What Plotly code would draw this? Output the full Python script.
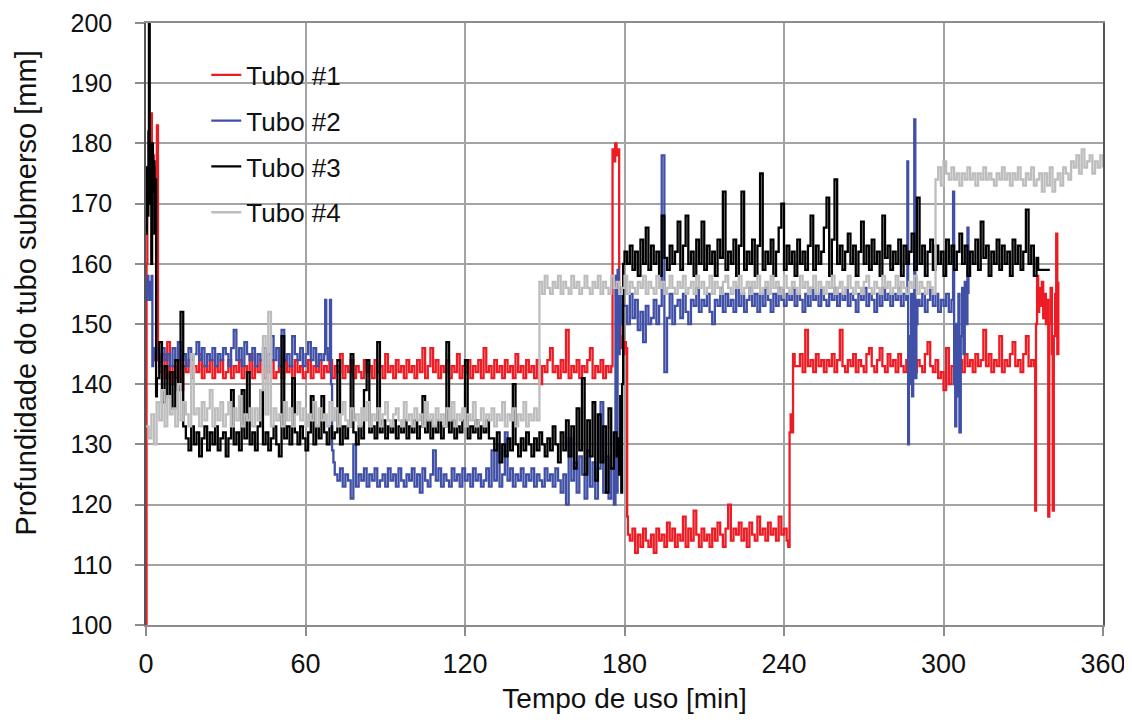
import plotly.graph_objects as go

# ---------------- Tubo #1 (red) ----------------
R_HEAD_T = [0, 0.2, 0.5, 1.0, 1.5, 1.8, 2.2, 2.6, 3.0, 3.4, 3.8, 4.1, 4.5]
R_HEAD_V = [100, 160, 176, 170, 178, 185, 172, 178, 174, 168, 176, 183, 144]
R_A_START = 5  # one value per minute
R_A = [142, 145, 141, 147, 140, 143, 141, 144, 139, 143,
       142, 144, 141, 143, 142, 145, 141, 143, 142, 144,
       141, 143, 142, 144, 141, 142, 144, 141, 143, 142,
       144, 141, 143, 142, 145, 141, 143, 142, 144, 141,
       143, 142, 144, 141, 142, 143, 141, 144, 142, 143,
       141, 144, 142, 143, 141, 142, 144, 141, 143, 142,
       144, 141, 143, 142, 144, 141, 143, 142, 145, 141,
       143, 142, 144, 141, 143, 142, 141, 144, 142, 143,
       141, 144, 142, 143, 141, 145, 142, 143, 141, 144,
       142, 143, 141, 144, 142, 143, 141, 144, 142, 146,
       141, 143, 146, 142, 144, 141, 143, 142, 144, 141,
       143, 142, 145, 141, 143, 142, 144, 141, 143, 142,
       144, 141, 146, 142, 143, 141, 144, 142, 143, 141,
       144, 142, 143, 141, 145, 142, 143, 141, 144, 142,
       143, 141, 144, 140, 143, 142, 144, 146, 142, 143,
       141, 144, 142, 149, 141, 143, 142, 144, 141, 143,
       142, 144, 146, 141, 143, 142, 144, 141, 143, 142, 143]
R_JUMP_T = [175.5, 176, 176.5, 177, 177.5, 178, 178.5, 179, 179.5, 180, 180.5, 181, 181.3]
R_JUMP_V = [179, 177, 180, 178, 179, 150, 146, 148, 145, 147, 146, 118, 115]
R_B_START = 182
R_B = [114, 116, 112, 115, 113, 116, 114, 113, 115, 112,
       116, 114, 115, 113, 117, 114, 116, 113, 115, 114,
       118, 113, 116, 114, 119, 115, 113, 116, 114, 115,
       113, 116, 114, 117, 115, 113, 116, 120, 114, 116,
       115, 117, 114, 116, 113, 117, 115, 114, 118, 115,
       116, 114, 117, 115, 116, 114, 118, 115, 116, 114]
R_RISE_T = [241.6, 242.1, 242.5, 243.0, 243.4, 244.0]
R_RISE_V = [113, 132, 135, 132, 145, 143]
R_C_START = 245
R_C = [143, 145, 142, 149, 143, 144, 142, 145, 143, 144,
       142, 144, 143, 145, 142, 144, 149, 143, 142, 144,
       143, 145, 142, 144, 143, 142, 145, 146, 143, 142,
       144, 146, 143, 142, 145, 143, 144, 142, 145, 143,
       142, 144, 143, 145, 142, 144, 143, 142, 145, 147,
       143, 142, 144, 141, 142, 139, 146, 140, 143, 142,
       141, 144, 142, 145, 143, 144, 142, 145, 143, 144,
       149, 143, 145, 142, 144, 143, 148, 142, 144, 143,
       145, 147, 143, 144, 142, 145, 148, 143, 144, 143]
R_TAIL_T = [334.5, 334.8, 335.2, 335.6, 336.0, 336.5, 337.0, 337.5, 338.0, 338.5, 339.0,
            339.4, 339.8, 340.3, 340.8, 341.1, 341.5, 342.0, 342.4, 342.8, 343.2]
R_TAIL_V = [119, 150, 158, 152, 156, 153, 157, 151, 155, 150, 154,
            118, 150, 156, 145, 119, 148, 155, 165, 145, 157]

# ---------------- Tubo #2 (blue) ----------------
B_HEAD_T = [0, 0.3, 0.6, 0.9, 1.2, 1.5, 1.8, 2.1, 2.4, 2.7, 3.0, 3.4]
B_HEAD_V = [157, 154, 158, 155, 157, 154, 156, 158, 143, 146, 144, 146]
B_A_START = 4
B_A = [145, 143, 146, 144, 145, 143, 146, 144, 147, 144,
       145, 143, 146, 144, 145, 147, 144, 146, 143, 145,
       144, 146, 143, 145, 144, 146, 145, 143, 146, 149,
       144, 146, 143, 147, 145, 144, 146, 143, 145, 144,
       146, 143, 145, 148, 144, 146, 143, 149, 144, 145,
       143, 148, 145, 144, 146, 143, 145, 147, 144, 146,
       143, 145, 144]
B_DROP_T = [67.0, 67.4, 67.8, 68.3, 68.8, 69.2, 69.6, 70.0, 70.5, 71.0]
B_DROP_V = [145, 154, 146, 144, 145, 154, 140, 129, 127, 125]
B_B_START = 72
B_B = [124, 126, 123, 125, 124, 121, 130, 123, 125, 124,
       126, 123, 125, 124, 126, 123, 124, 125, 123, 126,
       124, 125, 123, 126, 124, 123, 125, 124, 126, 123,
       125, 122, 126, 124, 123, 125, 129, 124, 126, 123,
       125, 124, 123, 126, 124, 125, 123, 126, 124, 125,
       123, 126, 124, 125, 123, 124, 126, 123, 129, 124,
       130, 123, 125, 132, 124, 126, 123, 125, 124, 126,
       123, 125, 124, 126, 123, 125, 124, 123, 126, 124,
       125, 123, 126, 124, 122, 125, 120, 131, 124, 127,
       122, 128, 125, 121, 129, 123, 127, 121, 126, 137,
       122, 128, 121, 126, 120]
B_UP_T = [176.6, 177.0, 177.4, 177.8, 178.2, 178.6, 179.0]
B_UP_V = [158, 122, 159, 145, 156, 150, 153]
B_C_START = 180
B_C = [153, 150, 155, 151, 154, 149, 152, 147, 153, 150,
       151, 154, 150, 153, 178, 142, 151, 155, 150, 153,
       154, 151, 155, 152, 150, 154, 153, 156, 152, 154,
       153, 155, 152, 150, 154, 153, 156, 152, 155, 153,
       154, 152, 156, 153, 155, 152, 154, 156, 153, 155,
       152, 155, 153, 156, 154, 152, 155, 153, 156, 154,
       153, 155, 154, 156, 153, 155, 154, 152, 155, 153,
       156, 154, 155, 153, 156, 154, 153, 155, 154, 156,
       153, 155, 154, 156, 153, 155, 154, 152, 155, 154,
       156, 153, 155, 154, 152, 155, 153, 156, 154, 155,
       153, 155, 154, 156, 153, 155]
B_SPK_T = [286.0, 286.4, 286.7, 287.0, 287.4, 287.8, 288.2, 288.6, 289.0, 289.4, 289.8, 290.2]
B_SPK_V = [154, 177, 130, 148, 140, 155, 138, 150, 184, 141, 150, 154]
B_D_START = 291
B_D = [153, 155, 152, 154, 156, 153, 155, 152, 154, 153, 155, 152]
B_END_T = [303.0, 303.6, 304.0, 304.4, 304.8, 305.2, 305.6, 306.0, 306.5, 307.0,
           307.5, 308.0, 308.5, 309.0, 309.4]
B_END_V = [154, 172, 140, 133, 150, 138, 155, 132, 148, 156,
           145, 157, 150, 166, 155]

# ---------------- Tubo #3 (black) ----------------
K_HEAD_T = [0, 0.3, 0.6, 0.9, 1.1, 1.4, 1.7, 2.0, 2.3, 2.6, 2.9, 3.2, 3.5, 3.8, 4.1]
K_HEAD_V = [165, 176, 168, 182, 200, 170, 178, 160, 180, 172, 177, 165, 174, 138, 141]
K_A_START = 5
K_A = [147, 137, 143, 138, 142, 136, 144, 139, 152, 133,
       131, 129, 133, 130, 132, 128, 131, 133, 129, 132,
       130, 133, 129, 131, 132, 128, 131, 139, 130, 132,
       129, 139, 131, 142, 130, 132, 129, 133, 139, 130,
       132, 129, 131, 133, 130, 128, 148, 131, 133, 130,
       141, 132, 130, 133, 131, 129, 132, 138, 130, 133,
       131, 138, 132, 130, 133, 131, 132, 144, 130, 133,
       131, 133, 145, 132, 130, 133, 131, 139, 144, 132,
       133, 131, 147, 132, 134, 131, 133, 132, 134, 131,
       133, 132, 134, 131, 133, 132, 134, 131, 133, 138,
       132, 134, 131, 133, 132, 134, 131, 133, 147, 132,
       134, 131, 133, 132, 134, 144, 131, 133, 132, 134,
       131, 133, 132, 134, 131,
       131, 129, 132, 127, 130, 128, 131, 129, 140, 130,
       128, 131, 129, 132, 130, 128, 131, 129, 132, 130,
       128, 131, 129, 133, 130, 127, 132, 129, 134, 128,
       133, 126, 136, 129, 141, 125, 134, 128, 137, 124,
       135, 127, 133, 122, 136, 126, 132, 128]
K_JUMP_T = [177.6, 178.0, 178.4, 178.8, 179.1, 179.5, 180.0]
K_JUMP_V = [131, 125, 138, 122, 140, 160, 162]
K_B_START = 181
K_B = [160, 163, 159, 162, 158, 164, 160, 166, 159, 163,
       160, 162, 158, 168, 161, 159, 163, 160, 162, 167,
       159, 163, 168, 160, 162, 158, 164, 160, 167, 159,
       163, 160, 162, 158, 164, 161, 172, 159, 162, 160,
       164, 158, 163, 172, 159, 162, 160, 164, 158, 163,
       175, 159, 162, 160, 164, 158, 162, 166, 170, 159,
       163, 160, 162, 158, 164, 160, 162, 159, 163, 168,
       159, 163, 160, 162, 166, 171, 158, 164, 174, 160,
       163, 159, 162, 165, 160, 163, 158, 162, 167, 160,
       163, 159, 164, 160, 162, 158, 168, 161, 163, 159,
       162, 160, 164, 158, 163, 160, 162, 165, 159, 171,
       160, 163, 158, 162, 164, 159, 163, 160, 162, 158,
       164, 160, 163, 159, 162, 165, 160, 163, 158, 162,
       160, 164, 159, 167, 161, 163, 158, 162, 160, 164,
       159, 163, 160, 162, 158, 164, 160, 163, 159, 162,
       169, 160, 163, 158, 161]
K_END_T = [335.6, 340.0]
K_END_V = [159, 159]

# ---------------- Tubo #4 (gray) ----------------
G_START = 0
G_A = [133, 131, 135, 130, 137, 134, 139, 133, 138, 135,
       136, 133, 140, 134, 137, 135, 133, 145, 135, 136,
       133, 137, 134, 136, 139, 133, 136, 134, 137, 133,
       135, 137, 133, 136, 134, 138, 133, 135, 134, 136,
       133, 136, 134, 139, 148, 135, 152, 133, 136, 134,
       135, 133, 137, 134, 136, 133, 135, 137, 134, 136,
       133, 135, 134, 137, 133, 136, 134, 135, 133, 137,
       134, 136, 133, 135, 137, 134, 133, 136, 134, 135,
       133, 136, 134, 137, 133, 135, 134, 136, 133, 135,
       137, 134, 133, 135, 136, 134, 133, 137, 134, 135,
       133, 136, 134, 135, 133, 137, 134, 135, 133, 136,
       134, 135, 133, 136, 134, 137, 133, 135, 134, 136,
       133, 135, 134, 137, 133, 134, 136, 133, 135, 134,
       136, 133, 135, 134, 137, 133, 135, 134, 136, 133,
       135, 134, 137, 133, 135, 134, 136, 134]
G_B = [157, 155, 158, 156, 155, 157, 156, 158, 155, 157,
       156, 155, 158, 156, 157, 155, 156, 158, 156, 155,
       157, 156, 158, 155, 157, 156, 155, 158, 156, 157,
       155, 156, 158, 155, 157, 156, 155, 157, 156, 158,
       155, 157, 156, 155, 158, 156, 157, 155, 156, 158,
       156, 155, 157, 156, 158, 155, 156, 157, 155, 158,
       156, 157, 155, 156, 158, 155, 157, 156, 155, 157,
       158, 156, 155, 157, 156, 158, 155, 156, 157, 155,
       157, 156, 158, 155, 156, 157, 155, 158, 156, 157,
       155, 156, 158, 156, 155, 157, 156, 155, 158, 156,
       157, 155, 156, 158, 155, 157, 156, 155, 157, 156,
       158, 155, 156, 157, 155, 156, 158, 156, 155, 157,
       156, 155, 157, 158, 156, 155, 157, 156, 155, 158,
       156, 157, 155, 156, 158, 155, 157, 156, 155, 157,
       156, 158, 155, 157, 156, 155, 157, 156, 155]
G_C = [174, 176, 173, 177, 175, 174, 176, 174, 175, 173,
       175, 174, 176, 174, 175, 173, 175, 174, 176, 174,
       175, 174, 173, 175, 174, 176, 174, 175, 173, 175,
       174, 176, 174, 173, 175, 174, 176, 173, 174, 175,
       172, 175, 173, 176, 172, 174, 175, 173, 176, 175,
       174, 177, 176, 178, 175, 179, 176, 177, 178, 175,
       177, 176, 178, 176]

X_TICKS = [0, 60, 120, 180, 240, 300, 360]
SERIES_NAMES = ["Tubo #1", "Tubo #2", "Tubo #3", "Tubo #4"]
COLORS = ["#ED1C24", "#4050A6", "#000000", "#BDBDBD"]


def per_minute(start, values):
    return list(range(start, start + len(values)))


def build(parts):
    t, v = [], []
    for times, vals in parts:
        t += list(times)
        v += list(vals)
    return t, v


t1, v1 = build([(R_HEAD_T, R_HEAD_V), (per_minute(R_A_START, R_A), R_A),
                (R_JUMP_T, R_JUMP_V), (per_minute(R_B_START, R_B), R_B),
                (R_RISE_T, R_RISE_V), (per_minute(R_C_START, R_C), R_C),
                (R_TAIL_T, R_TAIL_V)])
t2, v2 = build([(B_HEAD_T, B_HEAD_V), (per_minute(B_A_START, B_A), B_A),
                (B_DROP_T, B_DROP_V), (per_minute(B_B_START, B_B), B_B),
                (B_UP_T, B_UP_V), (per_minute(B_C_START, B_C), B_C),
                (B_SPK_T, B_SPK_V), (per_minute(B_D_START, B_D), B_D),
                (B_END_T, B_END_V)])
t3, v3 = build([(K_HEAD_T, K_HEAD_V), (per_minute(K_A_START, K_A), K_A),
                (K_JUMP_T, K_JUMP_V), (per_minute(K_B_START, K_B), K_B),
                (K_END_T, K_END_V)])
G_ALL = G_A + G_B + G_C
t4, v4 = per_minute(G_START, G_ALL), G_ALL

fig = go.Figure()
for i, (t, v) in enumerate([(t1, v1), (t2, v2), (t3, v3), (t4, v4)]):
    fig.add_trace(go.Scatter(x=t, y=v, mode="lines", name=SERIES_NAMES[i],
                             legendgroup=str(i),
                             line=dict(color=COLORS[i], width=2.3, shape="hv")))

FONT = "Liberation Sans"
fig.update_layout(
    width=1132, height=722,
    margin=dict(l=138, r=37, t=15, b=105, autoexpand=False),
    paper_bgcolor="white", plot_bgcolor="white",
    showlegend=True,
    legend=dict(x=0.063, y=0.9527, xanchor="left", yanchor="top",
                bgcolor="rgba(255,255,255,0)", tracegroupgap=9,
                font=dict(family=FONT, size=26, color="#111")),
    xaxis=dict(range=[0, 360], tickvals=X_TICKS, showgrid=True, automargin=False,
               gridcolor="#a3a3a3", gridwidth=1.5, zeroline=False,
               showline=True, linecolor="#8c8c8c", linewidth=1.5, mirror=True,
               ticks="outside", ticklen=9, tickcolor="#8c8c8c", tickwidth=1.5,
               ticklabelstandoff=5, ticklabeloverflow="allow",
               tickfont=dict(family=FONT, size=27, color="#111"),
               title=dict(text="Tempo de uso [min]", standoff=10,
                          font=dict(family=FONT, size=28, color="#111"))),
    yaxis=dict(range=[100, 200], dtick=10, showgrid=True, automargin=False,
               gridcolor="#a3a3a3", gridwidth=1.5, zeroline=False,
               showline=True, linecolor="#555555", linewidth=1.5, mirror=True,
               ticks="outside", ticklen=9, tickcolor="#8c8c8c", tickwidth=1.5,
               ticklabelstandoff=18, ticklabeloverflow="allow",
               tickfont=dict(family=FONT, size=25, color="#111")),
    annotations=[dict(text="Profundidade do tubo submerso [mm]", textangle=-90,
                      xref="paper", yref="paper", x=-0.1254, y=0.5523,
                      xanchor="center", yanchor="middle", showarrow=False,
                      font=dict(family=FONT, size=29, color="#111"))],
)

fig.write_html("out.html")
